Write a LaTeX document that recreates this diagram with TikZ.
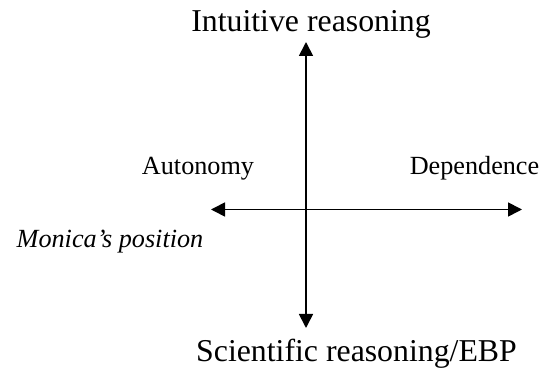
\documentclass[tikz,border=0pt]{standalone}
\usepackage{fontspec}
\setmainfont{Liberation Serif}
\usetikzlibrary{arrows.meta}
\begin{document}
\begin{tikzpicture}[x=1pt,y=-1pt,
  axis/.style={line width=1.7pt,{Triangle[length=14pt,width=14pt]}-{Triangle[length=14pt,width=14pt]}},
  bigtext/.style={inner sep=0pt,anchor=base,font=\fontsize{31.8}{36}\selectfont},
  midtext/.style={inner sep=0pt,anchor=base,font=\fontsize{26.2}{30}\selectfont}]
\useasboundingbox (0,0) rectangle (558,374);
\node[bigtext] (intu) at (311,32) {Intuitive reasoning};
\node[bigtext] (sci) at (356.5,362) {Scientific reasoning/EBP};
\node[midtext] (auto) at (198,175) {Autonomy};
\node[midtext] (dep) at (474.5,175) {Dependence};
\node[midtext,font=\fontsize{26.2}{30}\selectfont\itshape] (mon) at (110,248) {Monica’s position};
\coordinate (top) at (306,42);
\coordinate (bot) at (306,328);
\coordinate (left) at (211,209.5);
\coordinate (right) at (522,209.5);
\draw[axis] (bot) -- (top);
\draw[axis] (left) -- (right);
\end{tikzpicture}
\end{document}
